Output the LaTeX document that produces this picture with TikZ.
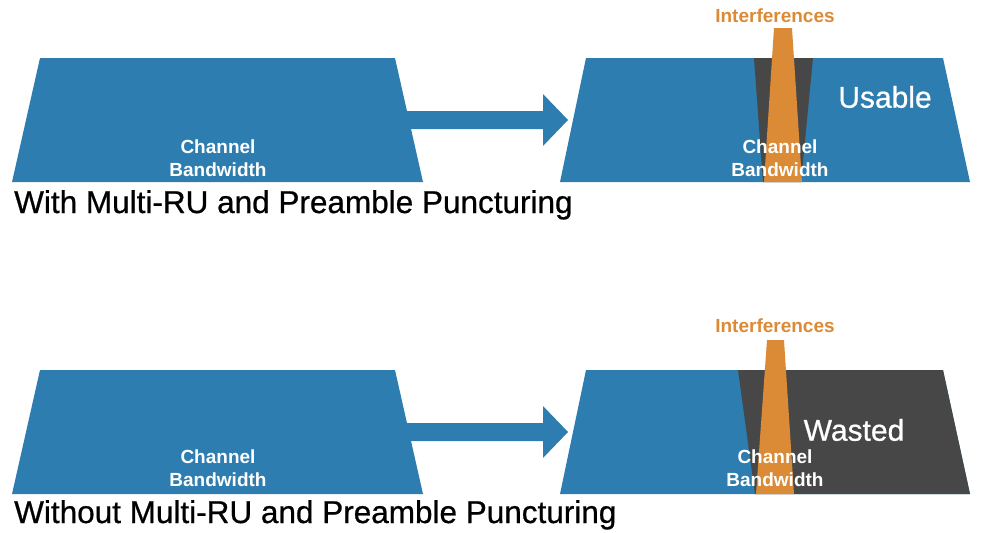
\documentclass[tikz,border=0pt]{standalone}
\usepackage{fontspec}
\setmainfont{Liberation Sans}
\newfontfamily\medfont[FakeBold=0.7]{Liberation Sans}
\usepackage{tikz}
\usepackage{xcolor}
\usetikzlibrary{positioning}
\definecolor{chblue}{RGB}{46,125,176}
\definecolor{chgrey}{RGB}{71,71,71}
\definecolor{chorange}{RGB}{219,138,53}
\tikzset{band/.style = {fill=chblue}}
\tikzset{lost/.style = {fill=chgrey}}
\tikzset{noise/.style = {fill=chorange}}
\tikzset{bwlabel/.style = {text=white, align=center, inner sep=0,
                           font=\bfseries\fontsize{19}{22.5}\selectfont}}
\tikzset{biglabel/.style = {text=white, inner sep=0,
                            font=\medfont\fontsize{30}{34}\selectfont}}
\tikzset{noiselabel/.style = {text=chorange, inner sep=0,
                              font=\bfseries\fontsize{19}{22}\selectfont}}
\tikzset{caption/.style = {text=black, inner sep=0, anchor=base west,
                           font=\medfont\fontsize{31.5}{36}\selectfont}}

\begin{document}
\begin{tikzpicture}[x=1pt, y=-1pt]
    \useasboundingbox (0,0) rectangle (989,533);
    % with puncturing
    \fill[band] (40,58) -- (395,58) -- (423,182) -- (12,182) -- cycle;
    \fill[band] (400,111) -- (543,111) -- (543,94) -- (568,120)
                -- (543,146) -- (543,129) -- (400,129) -- cycle;
    \fill[band] (586,58) -- (943,58) -- (970,182) -- (560,182) -- cycle;
    \fill[lost] (754,58) -- (813,58) -- (801,182) -- (763,182) -- cycle;
    \fill[noise] (774,28) -- (792,28) -- (802,182) -- (764,182) -- cycle;
    \node[bwlabel] (bw1) at (218,158) {Channel\\Bandwidth};
    \node[bwlabel] (bw2) at (780,158) {Channel\\Bandwidth};
    \node[noiselabel] (if1) at (775,16) {Interferences};
    \node[biglabel] (use) at (885,97) {Usable};
    \node[caption] (cap1) at (14,213) {With Multi-RU and Preamble Puncturing};
    % without puncturing
    \fill[band] (40,370) -- (395,370) -- (423,494) -- (12,494) -- cycle;
    \fill[band] (400,423) -- (543,423) -- (543,406) -- (568,432)
                -- (543,458) -- (543,441) -- (400,441) -- cycle;
    \fill[band] (586,370) -- (943,370) -- (970,494) -- (560,494) -- cycle;
    \fill[lost] (738,370) -- (943,370) -- (970,494) -- (755,494) -- cycle;
    \fill[noise] (767,340) -- (784,340) -- (794,494) -- (756,494) -- cycle;
    \node[bwlabel] (bw3) at (218,468) {Channel\\Bandwidth};
    \node[bwlabel] (bw4) at (775,468) {Channel\\Bandwidth};
    \node[noiselabel] (if2) at (775,326) {Interferences};
    \node[biglabel] (waste) at (854,430) {Wasted};
    \node[caption] (cap2) at (14,523) {Without Multi-RU and Preamble Puncturing};
\end{tikzpicture}
\end{document}
